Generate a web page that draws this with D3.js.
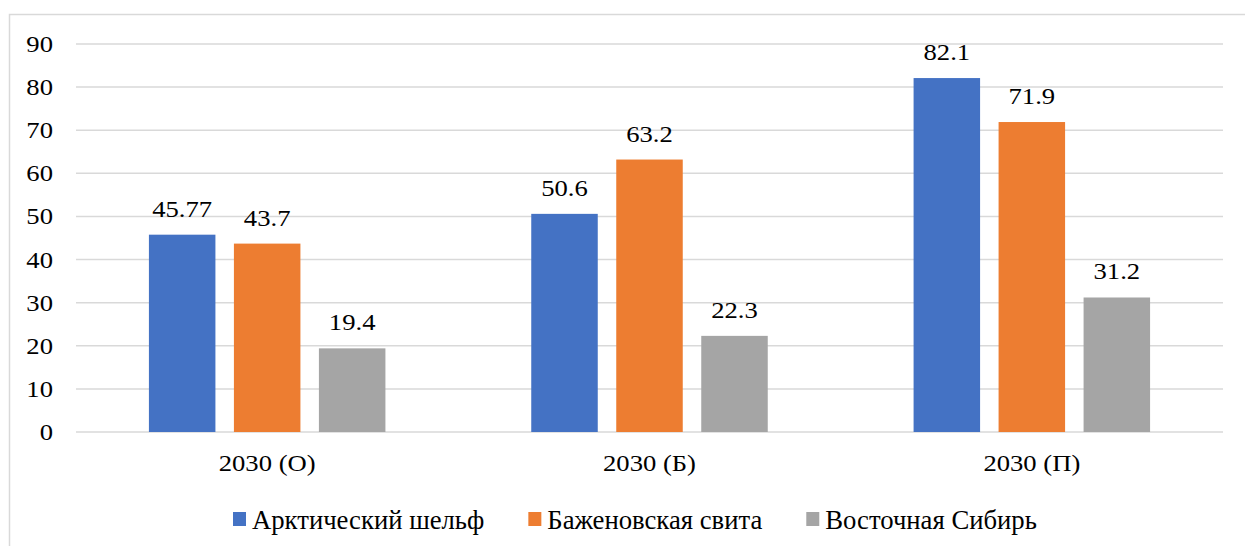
<!DOCTYPE html>
<html>
<head>
<meta charset="utf-8">
<script src="https://cdn.jsdelivr.net/npm/d3@7/dist/d3.min.js"></script>
<style>
  html, body { margin: 0; padding: 0; background: #fff; }
  svg { display: block; }
</style>
</head>
<body>
<svg id="chart" width="1245" height="546"></svg>
<script>
// Scenario categories and resource series
const categories = ["2030 (О)", "2030 (Б)", "2030 (П)"];
const seriesNames = ["Арктический шельф", "Баженовская свита", "Восточная Сибирь"];
const seriesColors = ["#4472C4", "#ED7D31", "#A5A5A5"];

// Values per series, aligned with categories
const arcticShelf = [45.77, 50.6, 82.1];
const bazhenov = [43.7, 63.2, 71.9];
const eastSiberia = [19.4, 22.3, 31.2];
const seriesValues = [arcticShelf, bazhenov, eastSiberia];
const valueLabels = [
  ["45.77", "50.6", "82.1"],
  ["43.7", "63.2", "71.9"],
  ["19.4", "22.3", "31.2"]
];

const yTicks = [0, 10, 20, 30, 40, 50, 60, 70, 80, 90];

const FONT = "'Liberation Serif', 'Times New Roman', Times, 'DejaVu Serif', serif";
const svg = d3.select("#chart")
  .attr("font-family", FONT)
  .style("font-family", FONT);
const plot = { left: 76, right: 1223, top: 44, bottom: 432 };
const SX = 1.11; // horizontal glyph stretch

// Outer frame
svg.append("rect")
  .attr("x", 9.5).attr("y", 14.5)
  .attr("width", 1260).attr("height", 560)
  .attr("fill", "none").attr("stroke", "#d9d9d9").attr("stroke-width", 1.5);

const y = d3.scaleLinear().domain([0, 90]).range([plot.bottom, plot.top]);
const x0 = d3.scaleBand().domain(categories).range([plot.left, plot.right]).padding(0);
const groupW = 236.5;
const x1 = d3.scaleBand().domain(seriesNames)
  .range([(x0.bandwidth() - groupW) / 2, (x0.bandwidth() + groupW) / 2])
  .paddingInner(0.2176).paddingOuter(0);

// Gridlines
svg.append("g").selectAll("line").data(yTicks).join("line")
  .attr("x1", plot.left).attr("x2", plot.right)
  .attr("y1", d => y(d)).attr("y2", d => y(d))
  .attr("stroke", "#d9d9d9").attr("stroke-width", 1.5);

// Y tick labels
svg.append("g").selectAll("text").data(yTicks).join("text")
  .attr("transform", d => `translate(53,${y(d) + 8}) scale(${SX},1)`)
  .attr("text-anchor", "end")
  .attr("font-family", FONT)
  .attr("font-size", 24)
  .text(d => d);

// Bars
const groups = svg.append("g").selectAll("g").data(categories).join("g")
  .attr("transform", c => `translate(${x0(c)},0)`);

groups.each(function (c, ci) {
  const g = d3.select(this);
  seriesNames.forEach((s, si) => {
    const v = seriesValues[si][ci];
    g.append("rect")
      .attr("x", x1(s)).attr("width", x1.bandwidth())
      .attr("y", y(v)).attr("height", y(0) - y(v))
      .attr("fill", seriesColors[si]);
    g.append("text")
      .attr("transform", `translate(${x1(s) + x1.bandwidth() / 2},${y(v) - 18}) scale(${SX},1)`)
      .attr("text-anchor", "middle")
      .attr("font-family", FONT)
      .attr("font-size", 24)
      .text(valueLabels[si][ci]);
  });
});

// Category labels
svg.append("g").selectAll("text").data(categories).join("text")
  .attr("transform", c => `translate(${x0(c) + x0.bandwidth() / 2},471) scale(${SX},1)`)
  .attr("text-anchor", "middle")
  .attr("font-family", FONT)
  .attr("font-size", 24)
  .text(c => c);

// Legend
const legend = svg.append("g");
let lx = 233;
seriesNames.forEach((s, i) => {
  legend.append("rect")
    .attr("x", lx).attr("y", 512).attr("width", 13).attr("height", 14)
    .attr("fill", seriesColors[i]);
  const t = legend.append("text")
    .attr("x", lx + 19).attr("y", 529)
    .attr("font-family", FONT)
    .attr("font-size", 26.7)
    .text(s);
  const w = t.node().getComputedTextLength();
  lx += 19 + w + 44;
});
</script>
</body>
</html>
